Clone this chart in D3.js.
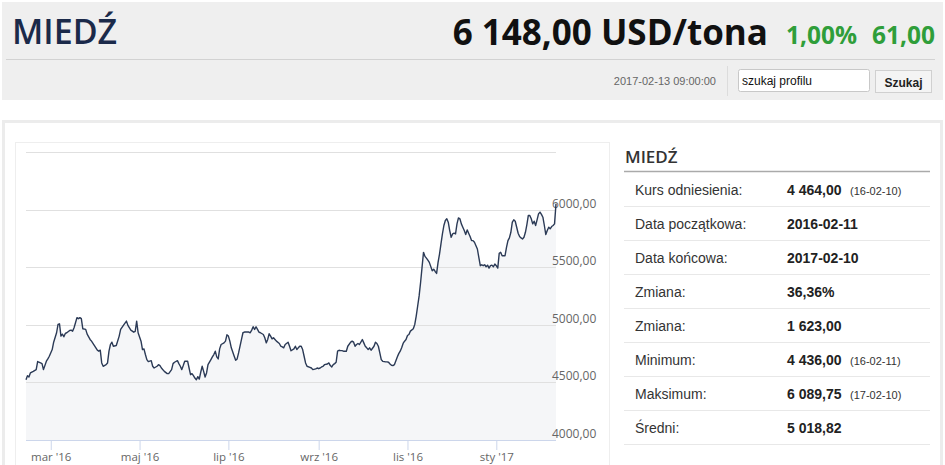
<!DOCTYPE html>
<html>
<head>
<meta charset="utf-8">
<script src="https://cdn.jsdelivr.net/npm/d3@7"></script>
<style>
  body { margin: 0; background: #fff; }
  svg { display: block; }
</style>
</head>
<body>
<div id="page"></div>
<script>
// notowania miedzi, USD/tona
const dates = [
  "2016-02-13","2016-02-14","2016-02-15","2016-02-16","2016-02-18","2016-02-20","2016-02-21","2016-02-23","2016-02-24","2016-02-25","2016-02-27","2016-02-28","2016-02-29",
  "2016-03-02","2016-03-03","2016-03-05","2016-03-06","2016-03-07","2016-03-08","2016-03-09","2016-03-10","2016-03-11","2016-03-12","2016-03-14","2016-03-15","2016-03-16","2016-03-17","2016-03-18","2016-03-19","2016-03-20","2016-03-21","2016-03-22","2016-03-23","2016-03-25","2016-03-26","2016-03-28","2016-03-29","2016-03-31",
  "2016-04-02","2016-04-03","2016-04-04","2016-04-05","2016-04-06","2016-04-08","2016-04-09","2016-04-10","2016-04-11","2016-04-12","2016-04-13","2016-04-15","2016-04-17","2016-04-18","2016-04-20","2016-04-22","2016-04-23","2016-04-25","2016-04-27","2016-04-28","2016-04-29","2016-04-30",
  "2016-05-02","2016-05-03","2016-05-04","2016-05-05","2016-05-06","2016-05-07","2016-05-09","2016-05-10","2016-05-11","2016-05-13","2016-05-14","2016-05-15","2016-05-16","2016-05-18","2016-05-20","2016-05-21","2016-05-23","2016-05-24","2016-05-25","2016-05-27","2016-05-28","2016-05-29","2016-05-30","2016-05-31",
  "2016-06-01","2016-06-03","2016-06-04","2016-06-05","2016-06-06","2016-06-07","2016-06-08","2016-06-09","2016-06-10","2016-06-11","2016-06-12","2016-06-13","2016-06-14","2016-06-15","2016-06-16","2016-06-17","2016-06-19","2016-06-20","2016-06-21","2016-06-22","2016-06-23","2016-06-24","2016-06-25","2016-06-26","2016-06-28","2016-06-29","2016-06-30",
  "2016-07-01","2016-07-02","2016-07-03","2016-07-05","2016-07-06","2016-07-07","2016-07-08","2016-07-10","2016-07-11","2016-07-12","2016-07-14","2016-07-15","2016-07-16","2016-07-17","2016-07-18","2016-07-19","2016-07-20","2016-07-21","2016-07-22","2016-07-23","2016-07-25","2016-07-26","2016-07-27","2016-07-28","2016-07-29","2016-07-30","2016-07-31",
  "2016-08-01","2016-08-02","2016-08-03","2016-08-05","2016-08-06","2016-08-07","2016-08-08","2016-08-09","2016-08-11","2016-08-12","2016-08-13","2016-08-15","2016-08-16","2016-08-17","2016-08-18","2016-08-19","2016-08-20","2016-08-21","2016-08-22","2016-08-23","2016-08-24","2016-08-26","2016-08-27","2016-08-28","2016-08-30","2016-08-31",
  "2016-09-01","2016-09-02","2016-09-03","2016-09-04","2016-09-05","2016-09-07","2016-09-08","2016-09-09","2016-09-10","2016-09-11","2016-09-12","2016-09-13","2016-09-14","2016-09-15","2016-09-16","2016-09-17","2016-09-18","2016-09-19","2016-09-20","2016-09-21","2016-09-23","2016-09-24","2016-09-25","2016-09-26","2016-09-27","2016-09-28","2016-09-29",
  "2016-10-01","2016-10-02","2016-10-03","2016-10-04","2016-10-05","2016-10-06","2016-10-07","2016-10-09","2016-10-10","2016-10-11","2016-10-12","2016-10-13","2016-10-14","2016-10-15","2016-10-17","2016-10-18","2016-10-19","2016-10-20","2016-10-21","2016-10-22","2016-10-23","2016-10-25","2016-10-26","2016-10-27","2016-10-28","2016-10-29","2016-10-30","2016-10-31",
  "2016-11-01","2016-11-02","2016-11-03","2016-11-05","2016-11-06","2016-11-07","2016-11-08","2016-11-09","2016-11-10","2016-11-11","2016-11-12","2016-11-13","2016-11-14","2016-11-15","2016-11-16","2016-11-18","2016-11-19","2016-11-20","2016-11-21","2016-11-22","2016-11-23","2016-11-24","2016-11-25","2016-11-26","2016-11-27","2016-11-28","2016-11-29","2016-11-30",
  "2016-12-01","2016-12-02","2016-12-03","2016-12-04","2016-12-05","2016-12-06","2016-12-07","2016-12-08","2016-12-09","2016-12-10","2016-12-11","2016-12-12","2016-12-13","2016-12-14","2016-12-15","2016-12-16","2016-12-17","2016-12-19","2016-12-20","2016-12-21","2016-12-22","2016-12-23","2016-12-24","2016-12-25","2016-12-26","2016-12-27","2016-12-28","2016-12-29","2016-12-30","2016-12-31",
  "2017-01-01","2017-01-02","2017-01-03","2017-01-04","2017-01-05","2017-01-06","2017-01-07","2017-01-08","2017-01-09","2017-01-10","2017-01-11","2017-01-12","2017-01-13","2017-01-14","2017-01-15","2017-01-16","2017-01-17","2017-01-18","2017-01-19","2017-01-20","2017-01-21","2017-01-22","2017-01-23","2017-01-24","2017-01-25","2017-01-26","2017-01-27","2017-01-28","2017-01-29","2017-01-30","2017-01-31",
  "2017-02-01","2017-02-02","2017-02-03","2017-02-04","2017-02-05","2017-02-06","2017-02-07","2017-02-08","2017-02-09","2017-02-10","2017-02-11"
]

const prices = [
  4523,4558,4547,4582,4596,4611,4681,4669,4663,4611,4684,4704,4727,
  4785,4849,4931,5003,5009,4902,4919,4896,4925,4931,4951,4954,4945,4974,5018,5062,5053,5062,5053,4966,4960,4919,4873,4858,4820,
  4780,4771,4780,4669,4640,4654,4669,4771,4829,4849,4814,4820,4902,4960,4997,5032,4995,4954,4936,4942,5032,4931,
  4858,4785,4791,4742,4698,4681,4689,4640,4625,4640,4654,4646,4625,4596,4576,4576,4611,4663,4675,4689,4663,4640,4611,4646,
  4684,4684,4625,4567,4576,4558,4538,4523,4550,4529,4588,4640,4596,4547,4582,4654,4698,4721,4742,4771,4721,4704,4791,4829,4843,4858,4913,
  4902,4858,4800,4727,4692,4704,4756,4873,4931,4937,4937,4937,4931,4954,4983,4960,4983,4960,4937,4931,4916,4887,4843,4873,4922,4902,4878,
  4887,4873,4858,4838,4814,4808,4800,4829,4849,4814,4775,4791,4814,4785,4800,4814,4814,4785,4727,4669,4640,4631,4625,4611,4617,4625,
  4619,4625,4634,4640,4654,4660,4669,4646,4634,4654,4663,4675,4771,4779,4776,4776,4771,4771,4771,4814,4849,4858,4849,4814,4829,4838,4829,
  4872,4843,4814,4800,4785,4800,4779,4814,4849,4838,4814,4756,4698,4683,4678,4678,4675,4660,4649,4646,4654,4721,4750,4771,4800,4838,4858,4872,
  4907,4916,4945,4966,5003,5076,5163,5251,5367,5498,5629,5594,5579,5562,5542,5469,5483,5463,5446,5542,5614,5702,5789,5862,5905,5920,5891,5818,
  5760,5789,5795,5789,5876,5928,5920,5876,5847,5818,5783,5824,5795,5766,5731,5731,5716,5658,5585,5513,5521,5513,5521,5504,5518,5492,5513,5518,5504,5527,
  5513,5492,5620,5629,5600,5600,5600,5672,5731,5754,5803,5891,5911,5899,5847,5795,5766,5754,5745,5760,5803,5870,5949,5949,5920,5876,5899,5862,5911,5963,5978,
  5958,5934,5862,5783,5818,5847,5833,5853,5862,5876,6051
]

const yTicks = [4000, 4500, 5000, 5500, 6000]
const gridValues = [4500, 5000, 5500, 6000, 6500]
const monthNames = ["sty","lut","mar","kwi","maj","cze","lip","sie","wrz","paź","lis","gru"]

const statLabels = ["Kurs odniesienia:", "Data początkowa:", "Data końcowa:", "Zmiana:", "Zmiana:", "Minimum:", "Maksimum:", "Średni:"]
const statValues = ["4 464,00", "2016-02-11", "2017-02-10", "36,36%", "1 623,00", "4 436,00", "6 089,75", "5 018,82"]
const statNotes = ["(16-02-10)", "", "", "", "", "(16-02-11)", "(17-02-10)", ""]

const W = 945, H = 465
const plot = {left: 26, right: 556, top: 152, bottom: 440}

const parse = d3.timeParse("%Y-%m-%d")
const data = dates.map((d, i) => ({date: parse(d), price: prices[i]}))

const svg = d3.select("#page").append("svg")
    .attr("width", W)
    .attr("height", H)

// --- naglowek
svg.append("rect")
    .attr("x", 2).attr("y", 2)
    .attr("width", 941).attr("height", 98)
    .attr("fill", "#efefef")

svg.append("text")
    .attr("x", 12).attr("y", 44)
    .attr("font-family", "Open Sans")
    .attr("font-weight", 600)
    .attr("font-size", 34)
    .attr("fill", "#1b2a4a")
    .text("MIEDŹ")

svg.append("text")
    .attr("x", 768).attr("y", 45)
    .attr("text-anchor", "end")
    .attr("font-family", "Open Sans")
    .attr("font-weight", "bold")
    .attr("font-size", 35)
    .attr("fill", "#111")
    .text("6 148,00 USD/tona")

svg.append("text")
    .attr("x", 857).attr("y", 44)
    .attr("text-anchor", "end")
    .attr("font-family", "Open Sans")
    .attr("font-weight", "bold")
    .attr("font-size", 24.5)
    .attr("fill", "#2f9e3a")
    .text("1,00%")

svg.append("text")
    .attr("x", 935).attr("y", 44)
    .attr("text-anchor", "end")
    .attr("font-family", "Open Sans")
    .attr("font-weight", "bold")
    .attr("font-size", 24.5)
    .attr("fill", "#2f9e3a")
    .text("61,00")

svg.append("line")
    .attr("x1", 6).attr("x2", 935)
    .attr("y1", 59.5).attr("y2", 59.5)
    .attr("stroke", "#d2d2d2")

svg.append("text")
    .attr("x", 716).attr("y", 85)
    .attr("text-anchor", "end")
    .attr("font-family", "Liberation Sans Narrow, Liberation Sans")
    .attr("font-size", 11)
    .attr("fill", "#666")
    .text("2017-02-13 09:00:00")

svg.append("line")
    .attr("x1", 727.5).attr("x2", 727.5)
    .attr("y1", 66).attr("y2", 96)
    .attr("stroke", "#dcdcdc")

svg.append("rect")
    .attr("x", 738.5).attr("y", 69.5)
    .attr("width", 131).attr("height", 22)
    .attr("rx", 2)
    .attr("fill", "#fff")
    .attr("stroke", "#c8c8c8")

svg.append("text")
    .attr("x", 742).attr("y", 85)
    .attr("font-family", "Liberation Sans")
    .attr("font-size", 12)
    .attr("fill", "#111")
    .text("szukaj profilu")

svg.append("rect")
    .attr("x", 875.5).attr("y", 70.5)
    .attr("width", 56).attr("height", 22)
    .attr("fill", "#f4f4f4")
    .attr("stroke", "#d0d0d0")

svg.append("text")
    .attr("x", 903.5).attr("y", 87)
    .attr("text-anchor", "middle")
    .attr("font-family", "Liberation Sans")
    .attr("font-weight", "bold")
    .attr("font-size", 12)
    .attr("fill", "#222")
    .text("Szukaj")

// --- ramki
svg.append("rect")
    .attr("x", 3.5).attr("y", 121.5)
    .attr("width", 938).attr("height", 360)
    .attr("fill", "#fff")
    .attr("stroke", "#ececec")
    .attr("stroke-width", 3)

svg.append("rect")
    .attr("x", 15.5).attr("y", 142.5)
    .attr("width", 594).attr("height", 340)
    .attr("fill", "#fff")
    .attr("stroke", "#eeeeee")

// --- wykres
const x = d3.scaleTime()
    .domain(d3.extent(data, d => d.date))
    .range([plot.left, plot.right])

const y = d3.scaleLinear()
    .domain([4000, 6500])
    .range([plot.bottom, plot.top])

const area = d3.area()
    .x(d => x(d.date))
    .y0(plot.bottom)
    .y1(d => y(d.price))

const line = d3.line()
    .x(d => x(d.date))
    .y(d => y(d.price))

svg.append("path")
    .datum(data)
    .attr("d", area)
    .attr("fill", "#f5f6f8")

svg.append("g")
    .attr("class", "grid")
    .selectAll("line")
    .data(gridValues)
    .join("line")
        .attr("x1", plot.left).attr("x2", plot.right)
        .attr("y1", d => Math.round(y(d)) + 0.5)
        .attr("y2", d => Math.round(y(d)) + 0.5)
        .attr("stroke", "#e0e0e0")

svg.append("g")
    .selectAll("text")
    .data(yTicks)
    .join("text")
        .attr("x", plot.right - 4)
        .attr("y", d => Math.round(y(d)) - 2)
        .attr("font-family", "Open Sans")
        .attr("font-size", 12)
        .attr("fill", "#666")
        .text(d => d3.format(".2f")(d).replace(".", ","))

const fmtMonth = d => `${monthNames[d.getMonth()]} '${d3.timeFormat("%y")(d)}`

const xAxis = d3.axisBottom(x)
    .ticks(d3.timeMonth.every(2))
    .tickFormat(fmtMonth)
    .tickSize(10)
    .tickPadding(3)

svg.append("g")
    .attr("transform", `translate(0, ${plot.bottom})`)
    .call(xAxis)
    .call(g => g.select(".domain").attr("stroke", "#ccd6eb").attr("d", `M${plot.left},0.5H${plot.right}`))
    .call(g => g.selectAll(".tick line").attr("stroke", "#ccd6eb"))
    .call(g => g.selectAll(".tick text")
        .attr("font-family", "Open Sans")
        .attr("font-size", 11.5)
        .attr("fill", "#666"))

svg.append("path")
    .datum(data)
    .attr("d", line)
    .attr("fill", "none")
    .attr("stroke", "#2b3a56")
    .attr("stroke-width", 1.4)
    .attr("stroke-linejoin", "round")

// --- tabela
svg.append("text")
    .attr("x", 625).attr("y", 163)
    .attr("font-family", "Open Sans")
    .attr("font-weight", 600)
    .attr("font-size", 17)
    .attr("fill", "#333")
    .text("MIEDŹ")

svg.append("line")
    .attr("x1", 624).attr("x2", 930)
    .attr("y1", 171.5).attr("y2", 171.5)
    .attr("stroke", "#aaa")
    .attr("stroke-width", 1.5)

const rowY = d3.scaleLinear()
    .domain([0, 1])
    .range([172, 206])

const rows = svg.append("g")
    .selectAll("g")
    .data(statLabels)
    .join("g")
        .attr("transform", (d, i) => `translate(0, ${rowY(i)})`)

rows.append("line")
    .attr("x1", 624).attr("x2", 930)
    .attr("y1", 34.5).attr("y2", 34.5)
    .attr("stroke", "#e8e8e8")

rows.append("text")
    .attr("x", 635).attr("y", 23)
    .attr("font-family", "Liberation Sans")
    .attr("font-size", 14)
    .attr("fill", "#333")
    .text(d => d)

rows.append("text")
    .attr("x", 787).attr("y", 23)
    .attr("font-family", "Liberation Sans")
    .attr("font-weight", "bold")
    .attr("font-size", 14)
    .attr("fill", "#222")
    .text((d, i) => statValues[i])

rows.append("text")
    .attr("x", 850).attr("y", 23)
    .attr("font-family", "Liberation Sans")
    .attr("font-size", 11)
    .attr("fill", "#333")
    .text((d, i) => statNotes[i])
</script>
</body>
</html>
